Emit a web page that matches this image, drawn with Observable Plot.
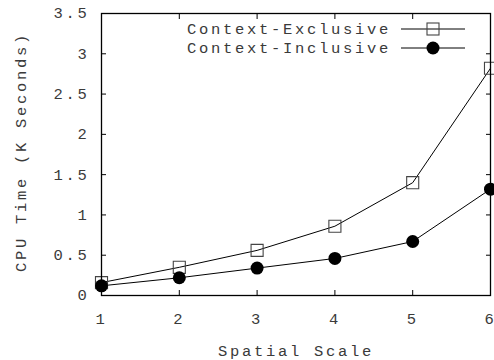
<!DOCTYPE html>
<html>
<head>
<meta charset="utf-8">
<script src="https://cdn.jsdelivr.net/npm/d3@7"></script>
<script src="https://cdn.jsdelivr.net/npm/@observablehq/plot@0.6"></script>
<style>
  html, body { margin: 0; padding: 0; background: #fff; }
  svg text { font-family: "Liberation Mono", "Courier New", monospace; }
</style>
</head>
<body>
<div id="chart"></div>
<script>
const scales = [1, 2, 3, 4, 5, 6];
const exclusive = [0.16, 0.35, 0.56, 0.86, 1.40, 2.82];
const inclusive = [0.12, 0.22, 0.34, 0.46, 0.67, 1.32];
const seriesNames = ["Context-Exclusive", "Context-Inclusive"];
const xTicks = [1, 2, 3, 4, 5, 6];
const yTicks = [0, 0.5, 1, 1.5, 2, 2.5, 3, 3.5];
const xLabel = "Spatial Scale";
const yLabel = "CPU Time (K Seconds)";

const exData = scales.map((s, i) => ({x: s, y: exclusive[i]}));
const inData = scales.map((s, i) => ({x: s, y: inclusive[i]}));

const FS = 15.5, LS = 2.7;

const plot = Plot.plot({
  width: 494,
  height: 360,
  marginLeft: 101,
  marginRight: 4,
  marginTop: 13,
  marginBottom: 65,
  style: {fontFamily: "Liberation Mono, monospace", fontSize: FS + "px", color: "#3a3a3a", background: "#fff"},
  x: {domain: [1, 6]},
  y: {domain: [0, 3.5]},
  marks: [
    Plot.line(exData, {x: "x", y: "y", stroke: "#000", strokeWidth: 1}),
    Plot.line(inData, {x: "x", y: "y", stroke: "#000", strokeWidth: 1}),
    Plot.dot(exData, {x: "x", y: "y", symbol: "square", r: 6.8, stroke: "#444", strokeWidth: 1.1, fill: "none"}),
    Plot.dot(inData, {x: "x", y: "y", symbol: "circle", r: 6.5, fill: "#000", stroke: "none"}),
    Plot.axisY(yTicks, {anchor: "left", tickSize: 0, tickPadding: 12, tickFormat: d => String(d), fontSize: FS, label: null}),
    Plot.axisY(yTicks, {anchor: "left", tickSize: -5, text: null, label: null, stroke: "#000"}),
    Plot.axisY(yTicks, {anchor: "right", tickSize: -5, text: null, label: null, stroke: "#000"}),
    Plot.axisX(xTicks, {anchor: "bottom", tickSize: 0, tickPadding: 17, tickFormat: d => String(d), fontSize: FS, label: null}),
    Plot.axisX(xTicks, {anchor: "bottom", tickSize: -5, text: null, label: null, stroke: "#000"}),
    Plot.axisX(xTicks, {anchor: "top", tickSize: -5, text: null, label: null, stroke: "#000"}),
    Plot.frame({stroke: "#000", strokeWidth: 1.3})
  ]
});

const svg = d3.select(plot);
svg.selectAll("text").style("letter-spacing", LS + "px");

// axis titles
svg.append("text")
  .attr("x", 296).attr("y", 356)
  .attr("text-anchor", "middle")
  .attr("fill", "#3a3a3a").style("font-size", FS + "px").style("letter-spacing", LS + "px")
  .text(xLabel);
svg.append("text")
  .attr("transform", "translate(26,152) rotate(-90)")
  .attr("text-anchor", "middle")
  .attr("fill", "#3a3a3a").style("font-size", FS + "px").style("letter-spacing", LS + "px")
  .text(yLabel);

// legend
const leg = svg.append("g");
seriesNames.forEach((name, i) => {
  const cy = 29 + i * 19;
  leg.append("text").attr("x", 391).attr("y", cy).attr("dy", "0.35em")
    .attr("text-anchor", "end").attr("fill", "#3a3a3a")
    .style("font-size", FS + "px").style("letter-spacing", LS + "px")
    .text(name);
  leg.append("line").attr("x1", 401).attr("x2", 465).attr("y1", cy).attr("y2", cy)
    .attr("stroke", "#000").attr("stroke-width", 1);
  if (i === 0) {
    leg.append("rect").attr("x", 433 - 6).attr("y", cy - 6).attr("width", 12).attr("height", 12)
      .attr("fill", "none").attr("stroke", "#444").attr("stroke-width", 1.1);
  } else {
    leg.append("circle").attr("cx", 433).attr("cy", cy).attr("r", 6.5).attr("fill", "#000");
  }
});

document.getElementById("chart").appendChild(plot);
</script>
</body>
</html>
